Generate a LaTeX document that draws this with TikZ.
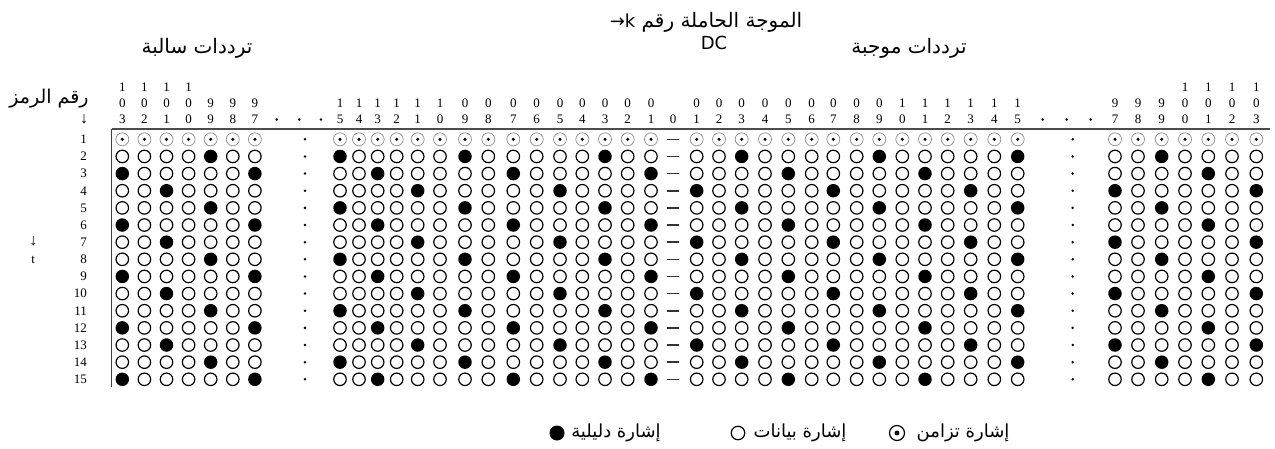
\documentclass[tikz,border=0pt]{standalone}
\usepackage{fontspec}
\setmainfont{Liberation Serif}
\newfontfamily\arabicfont[Script=Arabic]{DejaVu Sans}
\newfontfamily\sansf{DejaVu Sans}
\TeXXeTstate=1
\begin{document}
\begin{tikzpicture}[x=1pt,y=-1pt,
  syncdot/.style={circle,draw=black!45,line width=0.7pt,minimum size=13pt,inner sep=0pt},
  datadot/.style={circle,draw=black,line width=1.2pt,minimum size=12.5pt,inner sep=0pt},
  pilotdot/.style={circle,fill=black,minimum size=13.5pt,inner sep=0pt},
  smalldot/.style={circle,fill=black,minimum size=2.8pt,inner sep=0pt},
  dcbar/.style={rectangle,fill=black!80,minimum width=12pt,minimum height=1.6pt,inner sep=0pt},
  digit/.style={inner sep=0pt,font=\fontsize{13}{13}\selectfont},
  arrowtext/.style={inner sep=0pt,font=\fontsize{16}{16}\selectfont},
  artext/.style={inner sep=0pt,font=\arabicfont\fontsize{20}{22}\selectfont},
  legtext/.style={inner sep=0pt,font=\arabicfont\fontsize{18}{20}\selectfont}]
\useasboundingbox (0,0) rectangle (1275,448);
% frame lines
\coordinate (corner) at (111.7,129);
\coordinate (hend) at (1270,129);
\coordinate (vend) at (111.7,387);
\draw[line width=1.8pt,black!70] (corner) -- (hend);
\draw[line width=1.2pt,black!75] (corner) -- (vend);
% columns
\foreach \k/\x in {-103/122.3,-102/144.4,-101/166.5,-100/188.6,-99/210.7,-98/232.8,-97/254.9,
 -15/340,-14/359,-13/377.7,-12/396.7,-11/417.7,-10/440,-9/465,-8/488.3,-7/513.3,-6/536.7,-5/560,-4/582.3,-3/605,-2/627.7,-1/651,
 1/696.7,2/719,3/741.7,4/765,5/788.3,6/811.7,7/833.3,8/856.7,9/879.3,10/902.3,11/925,12/947.7,13/970.7,14/994.3,15/1017.7,
 97/1115,98/1138,99/1161.7,100/1185,101/1208.3,102/1232,103/1256.3}{
  \pgfmathtruncatemacro\ak{abs(\k)}
  \pgfmathtruncatemacro\dl{mod(\ak,10)}
  \pgfmathtruncatemacro\dm{mod(int(\ak/10),10)}
  \node[digit] (hb\k) at (\x,119.5) {\dl};
  \node[digit] (hm\k) at (\x,103.5) {\dm};
  \ifnum\ak>99 \node[digit] (ht\k) at (\x,87.5) {1};\fi
  \foreach \r in {1,...,15}{
    \pgfmathsetmacro\y{139.3+(\r-1)*17.143}
    \ifnum\r=1
      \node[syncdot] (c\k-\r) at (\x,\y) {};
      \fill (c\k-\r.center) circle (1.7pt);
    \else
      \pgfmathtruncatemacro\m{mod(\k-2*\r+241,6)}
      \ifnum\m=0
        \node[pilotdot] (c\k-\r) at (\x,\y) {};
      \else
        \node[datadot] (c\k-\r) at (\x,\y) {};
      \fi
    \fi
  }
}
% DC column
\node[digit] (hb0) at (673,119.5) {0};
\foreach \r in {1,...,15}{
  \pgfmathsetmacro\y{139.3+(\r-1)*17.143}
  \node[dcbar] (d0-\r) at (673,\y) {};
  \node[smalldot] (gl\r) at (305,\y) {};
  \node[smalldot] (gr\r) at (1072.7,\y) {};
  \node[digit,anchor=east] (rl\r) at (87,\y) {\r};
}
% header ellipsis dots
\foreach \i/\x in {1/276.7,2/299.3,3/321,4/1042.7,5/1066.7,6/1090.7}{
  \node[smalldot] (hd\i) at (\x,119.5) {};
}
% labels
\node[artext] (title) at (706,22) {{\sansf\fontsize{18}{20}\selectfont →k}\ \beginR الموجة الحاملة رقم\endR};
\node[inner sep=0pt,font=\sansf\fontsize{18}{20}\selectfont] (dc) at (714,43) {DC};
\node[artext] (neg) at (197,48) {\beginR ترددات سالبة\endR};
\node[artext] (pos) at (909,48) {\beginR ترددات موجبة\endR};
\node[artext,font=\arabicfont\fontsize{19}{21}\selectfont] (symno) at (49,99) {\beginR رقم الرمز\endR};
\node[arrowtext] (symarrow) at (84,119.5) {↓};
\node[arrowtext] (tarrow) at (33.3,241.7) {↓};
\node[digit] (tlabel) at (33.3,260) {t};
% legend
\node[pilotdot,minimum size=15pt] (lgp) at (557,433) {};
\node[legtext] (lgpt) at (616,433) {\beginR إشارة دليلية\endR};
\node[circle,draw=black,line width=1.2pt,minimum size=13.5pt,inner sep=0pt] (lgd) at (738,433) {};
\node[legtext] (lgdt) at (800,433) {\beginR إشارة بيانات\endR};
\node[circle,draw=black,line width=1.2pt,minimum size=15pt,inner sep=0pt] (lgs) at (897,433) {};
\fill (lgs.center) circle (2.4pt);
\node[legtext] (lgst) at (963,433) {\beginR إشارة تزامن\endR};
\end{tikzpicture}
\end{document}
